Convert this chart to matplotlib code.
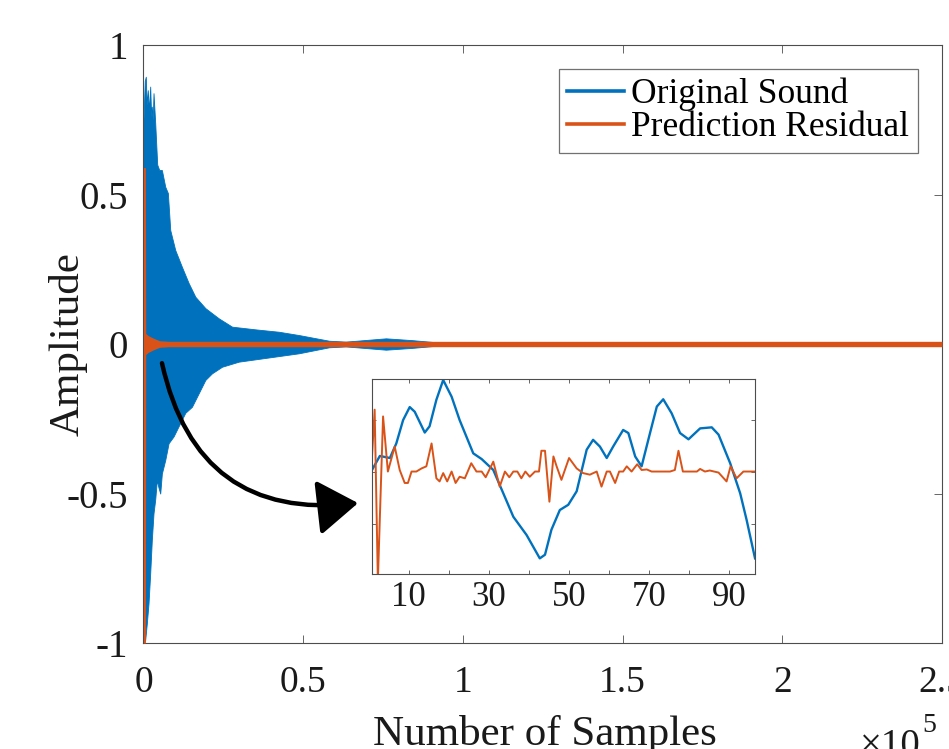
import matplotlib
matplotlib.use("Agg")
import matplotlib.pyplot as plt
import numpy as np

plt.rcParams["font.family"] = ["Liberation Serif", "DejaVu Serif"]
plt.rcParams["axes.unicode_minus"] = False

C_ORIG = "#0072BD"
C_RES = "#D95319"
C_AX = "#4d4d4d"
C_TXT = "#1a1a1a"

# Main waveform, read as upper / lower envelope (samples, amplitude)
wave_x_hi = [0, 400, 720, 1000, 1350, 1700, 2100, 2400, 2600, 2900, 3140, 3670, 4300,
             4930, 5750, 6810, 7630, 8380, 9950, 12030, 14130, 16230, 19370, 23550,
             27730, 35070, 42390, 48670, 58100, 63300, 75900, 84100, 92600, 96700,
             100000, 250000]
wave_hi = [0.75, 0.88, 0.894, 0.80, 0.849, 0.78, 0.861, 0.76, 0.794, 0.75, 0.839, 0.739,
           0.60, 0.582, 0.582, 0.526, 0.505, 0.381, 0.314, 0.258, 0.204, 0.158, 0.120,
           0.086, 0.058, 0.049, 0.041, 0.030, 0.011, 0.008, 0.019, 0.013, 0.005, 0.004,
           0.003, 0.003]
wave_x_lo = [0, 530, 1040, 1570, 2100, 2610, 3140, 3670, 4180, 4700, 5240, 5750, 6810,
             7850, 9420, 10990, 13090, 15160, 17270, 19370, 21440, 24580, 29830, 48670,
             58100, 63300, 75900, 84100, 92600, 96700, 100000, 250000]
wave_lo = [-1.0, -0.99, -0.935, -0.868, -0.767, -0.655, -0.566, -0.52, -0.455, -0.48,
           -0.5, -0.433, -0.388, -0.332, -0.309, -0.275, -0.23, -0.21, -0.165, -0.12,
           -0.098, -0.076, -0.059, -0.031, -0.011, -0.008, -0.019, -0.013, -0.005,
           -0.004, -0.003, -0.003]

# Prediction residual envelope
res_x = [0, 600, 700, 1500, 3000, 5000, 8000, 250000]
res_hi = [0.59, 0.59, 0.035, 0.028, 0.02, 0.011, 0.009, 0.009]
res_lo = [-1.0, -1.0, -0.035, -0.028, -0.02, -0.011, -0.009, -0.009]

# Zoomed inset (first ~96 samples, scaled amplitude)
inset_orig_x = [0.84, 2.8, 5.3, 6.9, 8.6, 10.25, 11.5, 14.0, 15.2, 16.9, 18.6, 20.7,
                22.7, 26.1, 28.2, 31.1, 33.6, 36.1, 39.4, 42.7, 44.0, 45.6, 47.7, 49.8,
                51.9, 54.4, 56.0, 57.7, 59.4, 61.0, 63.5, 64.8, 66.5, 68.1, 70.2, 71.9,
                73.5, 75.6, 77.7, 79.8, 82.7, 85.6, 87.3, 90.2, 92.7, 94.3, 96.4]
inset_orig_y = [0.03, 0.30, 0.26, 0.54, 0.99, 1.24, 1.15, 0.75, 0.87, 1.38, 1.76, 1.44,
                0.99, 0.35, 0.24, 0.03, -0.42, -0.87, -1.22, -1.67, -1.60, -1.12, -0.74,
                -0.64, -0.38, 0.42, 0.61, 0.48, 0.26, 0.48, 0.80, 0.74, 0.29, 0.10, 0.74,
                1.25, 1.39, 1.12, 0.74, 0.62, 0.83, 0.85, 0.71, 0.16, -0.42, -0.93, -1.67]
inset_res_x = [0.84, 1.5, 2.3, 3.6, 4.8, 6.5, 7.75, 9.0, 9.8, 10.7, 11.9, 13.2, 14.4,
               15.7, 16.9, 17.7, 18.6, 19.6, 20.7, 21.7, 22.7, 24.0, 25.6, 26.9, 28.2,
               29.2, 31.1, 32.7, 34.0, 35.1, 36.1, 37.1, 38.1, 39.1, 40.2, 41.5, 42.5,
               43.1, 44.0, 45.1, 46.1, 46.9, 48.1, 50.0, 51.9, 53.5, 55.2, 56.9, 58.1,
               59.4, 60.2, 61.5, 62.5, 63.5, 64.4, 65.6, 67.0, 68.1, 69.4, 70.6, 75.2,
               76.4, 77.3, 78.4, 81.9, 82.7, 83.9, 85.1, 87.3, 89.3, 90.3, 91.8, 93.5, 96.4]
inset_res_y = [0.29, 1.19, -2.1, 1.06, 0.0, 0.48, 0.03, -0.22, -0.22, 0.0, 0.0, 0.06,
               0.10, 0.54, -0.13, -0.19, -0.03, -0.19, 0.0, -0.22, -0.10, -0.13, 0.16,
               0.0, 0.0, -0.11, 0.19, -0.29, 0.0, -0.11, 0.0, 0.0, -0.13, 0.0, -0.10,
               0.0, 0.0, 0.40, 0.40, -0.58, 0.29, 0.10, -0.16, 0.26, 0.06, -0.03, -0.06,
               0.0, -0.29, 0.0, 0.0, -0.22, 0.0, 0.0, 0.10, 0.0, 0.14, 0.03, 0.04, 0.0,
               0.0, 0.03, 0.40, 0.0, 0.0, 0.05, 0.0, 0.02, -0.02, -0.19, 0.10, -0.13,
               0.0, 0.0]

x_ticks = [0, 50000, 100000, 150000, 200000, 250000]
x_ticklabels = ["0", "0.5", "1", "1.5", "2", "2.5"]
y_ticks = [-1, -0.5, 0, 0.5, 1]
y_ticklabels = ["-1", "-0.5", "0", "0.5", "1"]
inset_xticks = [10, 20, 30, 40, 50, 60, 70, 80, 90]
inset_xticklabels = ["10", "", "30", "", "50", "", "70", "", "90"]

fig = plt.figure(figsize=(9.49, 7.49), dpi=100)
ax = fig.add_axes([0.1512, 0.1415, 0.8414, 0.7984])

ax.fill_between(wave_x_hi, 0, wave_hi, color=C_ORIG, lw=0.6, zorder=2)
ax.fill_between(wave_x_lo, wave_lo, 0, color=C_ORIG, lw=0.6, zorder=2)
ax.fill_between(res_x, res_lo, res_hi, color=C_RES, lw=0, zorder=3)

ax.plot([], [], color=C_ORIG, lw=2.6, label="Original Sound")
ax.plot([], [], color=C_RES, lw=2.6, label="Prediction Residual")

ax.set_xlim(0, 250000)
ax.set_ylim(-1, 1)
ax.set_xticks(x_ticks)
ax.set_xticklabels(x_ticklabels)
ax.set_yticks(y_ticks)
ax.set_yticklabels(y_ticklabels)
ax.tick_params(direction="in", length=5.5, width=0.6, color=C_AX, top=True, right=True,
               labelsize=27, labelcolor=C_TXT)
ax.tick_params(axis="x", pad=16)
ax.tick_params(axis="y", pad=11, labelsize=28)
for s in ax.spines.values():
    s.set_color(C_AX)
    s.set_linewidth(0.8)

ax.set_xlabel("Number of Samples", fontsize=31, color=C_TXT)
ax.xaxis.set_label_coords(0.503, -0.12)
ax.set_ylabel("Amplitude", fontsize=31, color=C_TXT)
ax.yaxis.set_label_coords(-0.07, 0.5)

# exponent label, partly cut by the lower edge like the reference
fig.text(860 / 949, 1 - 756 / 749, "\u00d710", fontsize=28, color=C_TXT,
         ha="left", va="baseline")
fig.text(922 / 949, 1 - 732 / 749, "5", fontsize=20, color=C_TXT,
         ha="left", va="baseline")

leg = ax.legend(loc="upper right", bbox_to_anchor=(0.970, 0.960), fontsize=25.5,
                frameon=True, fancybox=False, borderaxespad=0, borderpad=0.25,
                handlelength=1.6, handletextpad=0.2, labelspacing=0.0)
leg.get_frame().set_edgecolor(C_AX)
leg.get_frame().set_linewidth(0.9)

# Curved arrow towards the inset
ax.annotate("", xy=(67180, -0.532), xytext=(5790, -0.064),
            arrowprops=dict(arrowstyle="-|>,head_length=1.25,head_width=0.85",
                            connectionstyle="arc3,rad=0.45", color="black", lw=3.2,
                            mutation_scale=20, shrinkA=0, shrinkB=0), zorder=5)

# Inset
axi = fig.add_axes([0.392, 0.2337, 0.4036, 0.2603])
axi.plot(inset_orig_x, inset_orig_y, color=C_ORIG, lw=1.7)
axi.plot(inset_res_x, inset_res_y, color=C_RES, lw=1.4)
axi.set_xlim(0.84, 96.4)
axi.set_ylim(-1.97, 1.78)
axi.set_xticks(inset_xticks)
axi.set_xticklabels(inset_xticklabels)
axi.set_yticks([-1, 0, 1])
axi.set_yticklabels([])
axi.tick_params(direction="in", length=3, width=0.6, color=C_AX, top=True, right=True,
                labelsize=25, pad=5, labelcolor=C_TXT)
for s in axi.spines.values():
    s.set_color(C_AX)
    s.set_linewidth(0.8)

fig.savefig("out.png", dpi=100)
